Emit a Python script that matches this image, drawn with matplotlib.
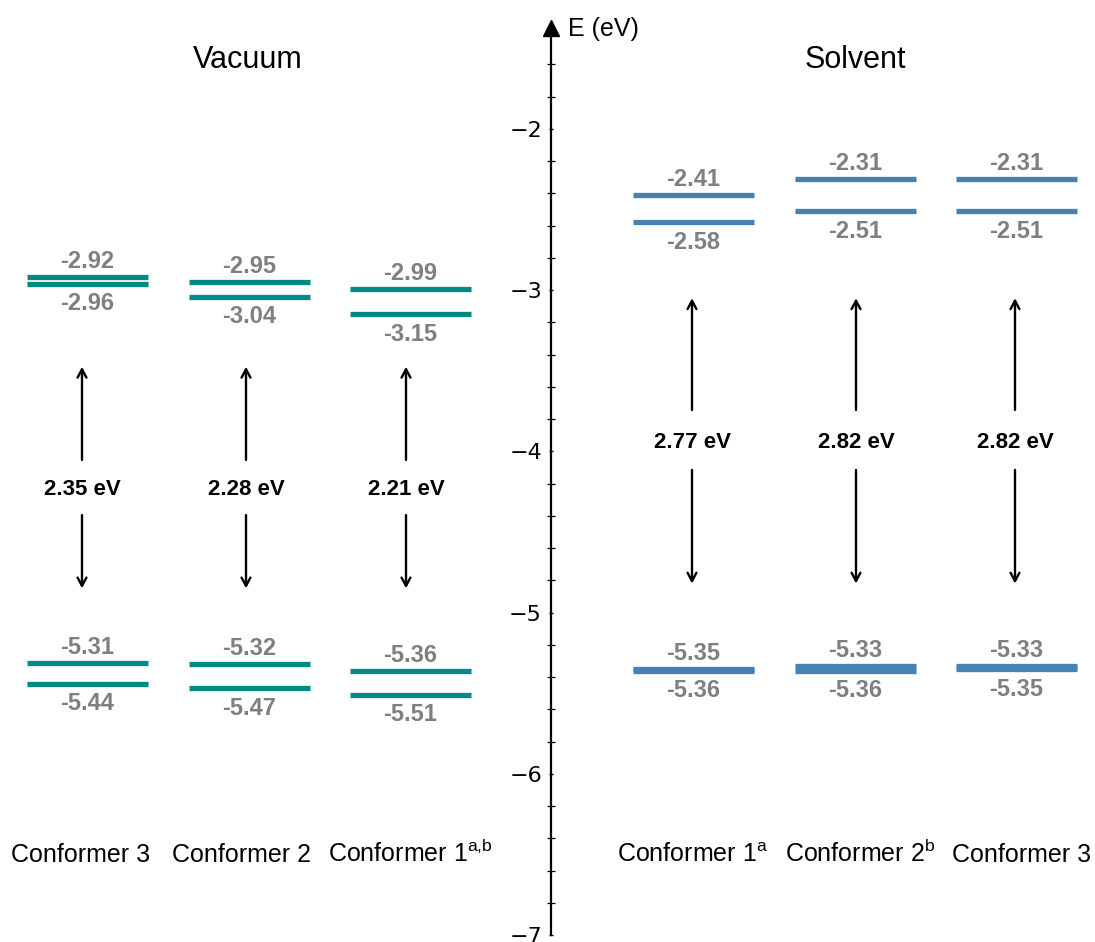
import matplotlib
matplotlib.use("Agg")
import matplotlib.pyplot as plt
from matplotlib.ticker import FixedLocator
import numpy as np

# ---- data (eV) ----
vac_conformers = ["Conformer 3", "Conformer 2", r"Conformer 1$^{\mathregular{a{,}b}}$"]
vac_lumo1 = [-2.92, -2.95, -2.99]
vac_lumo = [-2.96, -3.04, -3.15]
vac_homo = [-5.31, -5.32, -5.36]
vac_homo1 = [-5.44, -5.47, -5.51]

sol_conformers = [r"Conformer 1$^{\mathregular{a}}$", r"Conformer 2$^{\mathregular{b}}$", "Conformer 3"]
sol_lumo1 = [-2.41, -2.31, -2.31]
sol_lumo = [-2.58, -2.51, -2.51]
sol_homo = [-5.35, -5.33, -5.33]
sol_homo1 = [-5.36, -5.36, -5.35]

major_ticks = [-7, -6, -5, -4, -3, -2]

# ---- layout / style ----
W, H = 1095, 942
TEAL = "#008B82"
BLUE = "#4682B4"
GRAY = "#7f7f7f"
SANS = "Liberation Sans"
plt.rcParams["font.family"] = [SANS, "DejaVu Sans"]
plt.rcParams["mathtext.fontset"] = "dejavusans"

fig = plt.figure(figsize=(W / 100, H / 100), dpi=100)
ax = fig.add_axes([0, 0, 1, 1])
ax.set_xlim(0, W)
ax.set_ylim(-7.0434, -1.2)

# central energy axis
AXIS_X = 551
for s in ("top", "right", "bottom"):
    ax.spines[s].set_visible(False)
ax.spines["left"].set_position(("data", AXIS_X))
ax.spines["left"].set_bounds(-7, -1.40)
ax.spines["left"].set_linewidth(1.6)
ax.set_xticks([])
ax.yaxis.set_major_locator(FixedLocator(major_ticks))
minor = [v for v in np.round(np.arange(-7, -1.35, 0.2), 2) if abs(v - round(v)) > 1e-6]
ax.yaxis.set_minor_locator(FixedLocator(minor))
ax.tick_params(axis="y", which="major", direction="inout", length=3, width=1,
               pad=5, labelsize=16, labelfontfamily="DejaVu Sans")
ax.tick_params(axis="y", which="minor", direction="inout", length=6, width=0.9)
ax.plot([AXIS_X], [-1.375], marker="^", color="black", markersize=11, clip_on=False)
ax.text(AXIS_X + 17, -1.38, "E (eV)", fontsize=18, ha="left", va="center")

HALF = 60.5
LW = 3.8


def panel(centers, gap_x, names, name_x, l1, l0, h0, h1, color,
          label_v, up_start, up_tip, dn_start, dn_tip):
    for i, cx in enumerate(centers):
        for v in (l1[i], l0[i], h0[i], h1[i]):
            ax.hlines(v, cx - HALF, cx + HALF, color=color, lw=LW)
        # values above the upper line and below the lower line of each pair
        for top, bot in ((l1[i], l0[i]), (h0[i], h1[i])):
            ax.annotate(f"{top:.2f}", (cx, top), xytext=(0, 11), textcoords="offset points",
                        ha="center", va="center", fontsize=17, fontweight="bold", color=GRAY)
            ax.annotate(f"{bot:.2f}", (cx, bot), xytext=(0, -14.5), textcoords="offset points",
                        ha="center", va="center", fontsize=17, fontweight="bold", color=GRAY)
        gx = gap_x[i]
        gap = l0[i] - h0[i]
        ax.text(gx, label_v, f"{gap:.2f} eV", ha="center", va="center",
                fontsize=16, fontweight="bold", color="black")
        arrow = dict(arrowstyle="->,head_length=0.6,head_width=0.32", color="black", lw=1.7,
                     shrinkA=0, shrinkB=0)
        ax.annotate("", xy=(gx, up_tip), xytext=(gx, up_start), arrowprops=arrow)
        ax.annotate("", xy=(gx, dn_tip), xytext=(gx, dn_start), arrowprops=arrow)
        ax.text(name_x[i], -6.55, names[i], ha="center", va="baseline", fontsize=18)


panel([87.5, 249, 410.5], [82, 246, 406], vac_conformers, [81, 241, 410],
      vac_lumo1, vac_lumo, vac_homo, vac_homo1, TEAL,
      -4.239, -4.053, -3.475, -4.395, -4.85)
panel([693.5, 855.5, 1016.5], [692, 856, 1015], sol_conformers, [692, 860, 1022],
      sol_lumo1, sol_lumo, sol_homo, sol_homo1, BLUE,
      -3.942, -3.743, -3.05, -4.115, -4.82)

ax.text(248, -1.575, "Vacuum", ha="center", va="center", fontsize=22)
ax.text(855, -1.575, "Solvent", ha="center", va="center", fontsize=22)

fig.savefig("out.png", dpi=100)
